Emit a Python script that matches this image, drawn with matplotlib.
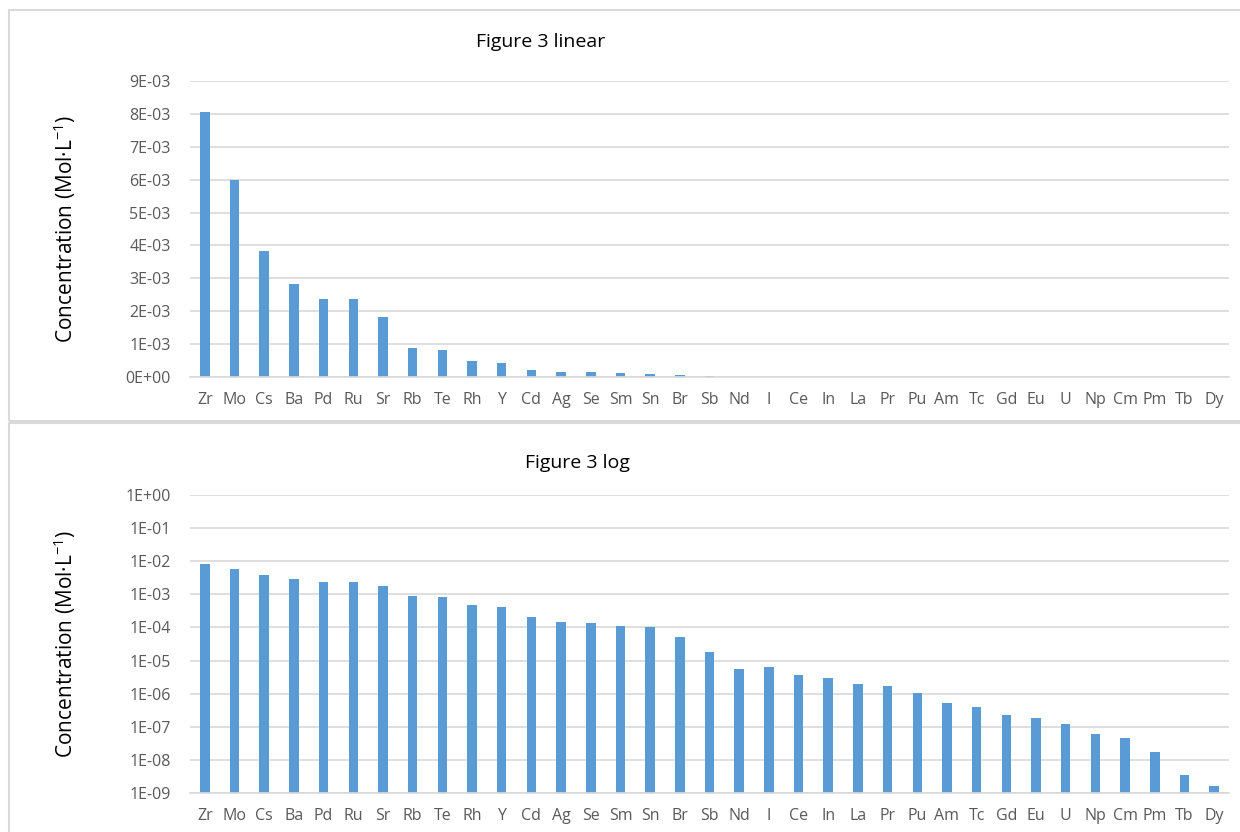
import numpy as np
import matplotlib
matplotlib.use("Agg")
import matplotlib.pyplot as plt
from matplotlib.ticker import FuncFormatter, FixedLocator, NullLocator
from matplotlib.patches import Rectangle

plt.rcParams['font.family'] = ['Open Sans', 'DejaVu Sans']

# element concentrations (Mol/L)
elements = ['Zr', 'Mo', 'Cs', 'Ba', 'Pd', 'Ru', 'Sr', 'Rb', 'Te', 'Rh', 'Y', 'Cd',
            'Ag', 'Se', 'Sm', 'Sn', 'Br', 'Sb', 'Nd', 'I', 'Ce', 'In', 'La', 'Pr',
            'Pu', 'Am', 'Tc', 'Gd', 'Eu', 'U', 'Np', 'Cm', 'Pm', 'Tb', 'Dy']
conc = [8.05e-3, 6.0e-3, 3.83e-3, 2.83e-3, 2.37e-3, 2.37e-3, 1.83e-3, 8.7e-4,
        8.1e-4, 4.8e-4, 4.2e-4, 2.0e-4, 1.45e-4, 1.4e-4, 1.1e-4, 1.03e-4,
        5.2e-5, 1.85e-5, 5.7e-6, 6.6e-6, 3.6e-6, 2.9e-6, 1.9e-6, 1.66e-6,
        1.02e-6, 5.1e-7, 4.0e-7, 2.26e-7, 1.83e-7, 1.2e-7, 6.2e-8, 4.7e-8,
        1.75e-8, 3.5e-9, 1.65e-9]

lin_ticks = [i * 1e-3 for i in range(10)]
log_ticks = [10.0 ** -k for k in range(9, -1, -1)]

bar_color = '#5B9BD5'
grid_color = '#D9D9D9'
text_gray = '#595959'

fig = plt.figure(figsize=(12.4, 8.32), dpi=100)

# panel frames
fig.patches.append(Rectangle((9 / 1240, 1 - 421 / 832), 1.0, 411 / 832, transform=fig.transFigure,
                             fill=False, edgecolor=grid_color, linewidth=1.5))
fig.patches.append(Rectangle((9 / 1240, -0.01), 1.0, 1 - 423 / 832 + 0.01, transform=fig.transFigure,
                             fill=False, edgecolor=grid_color, linewidth=1.5))

fmt = FuncFormatter(lambda v, p: format(v, '.0E'))
x = np.arange(len(elements))

def style(ax):
    ax.set_xlim(-0.5, len(elements) - 0.5)
    ax.set_xticks(x)
    ax.set_xticklabels(elements)
    ax.yaxis.set_major_formatter(fmt)
    ax.grid(axis='y', color=grid_color, linewidth=1.2)
    ax.set_axisbelow(True)
    for s in ['top', 'right', 'left']:
        ax.spines[s].set_visible(False)
    ax.spines['bottom'].set_color(grid_color)
    ax.spines['bottom'].set_linewidth(1.2)
    ax.tick_params(axis='both', length=0, labelsize=11.5, labelcolor=text_gray)
    ax.tick_params(axis='x', pad=11)
    ax.tick_params(axis='y', pad=14)
    ax.set_ylabel('Concentration (Mol·L$^{\\mathregular{-1}}$)', fontsize=15, color='black', labelpad=34)

# linear panel
ax1 = fig.add_axes([190 / 1240, 1 - 377 / 832, 1039 / 1240, 296 / 832])
ax1.bar(x, conc, width=0.32, color=bar_color)
ax1.set_ylim(0, 9e-3)
ax1.yaxis.set_major_locator(FixedLocator(lin_ticks))
style(ax1)
fig.text(541 / 1240, 1 - 42 / 832, 'Figure 3 linear', ha='center', va='center', fontsize=14)

# log panel
ax2 = fig.add_axes([190 / 1240, 1 - 793 / 832, 1039 / 1240, 298 / 832])
ax2.bar(x, conc, width=0.32, color=bar_color)
ax2.set_yscale('log')
ax2.set_ylim(1e-9, 1)
ax2.yaxis.set_major_locator(FixedLocator(log_ticks))
ax2.yaxis.set_minor_locator(NullLocator())
style(ax2)
fig.text(577 / 1240, 1 - 463 / 832, 'Figure 3 log', ha='center', va='center', fontsize=14)

fig.savefig('out.png', dpi=100)
